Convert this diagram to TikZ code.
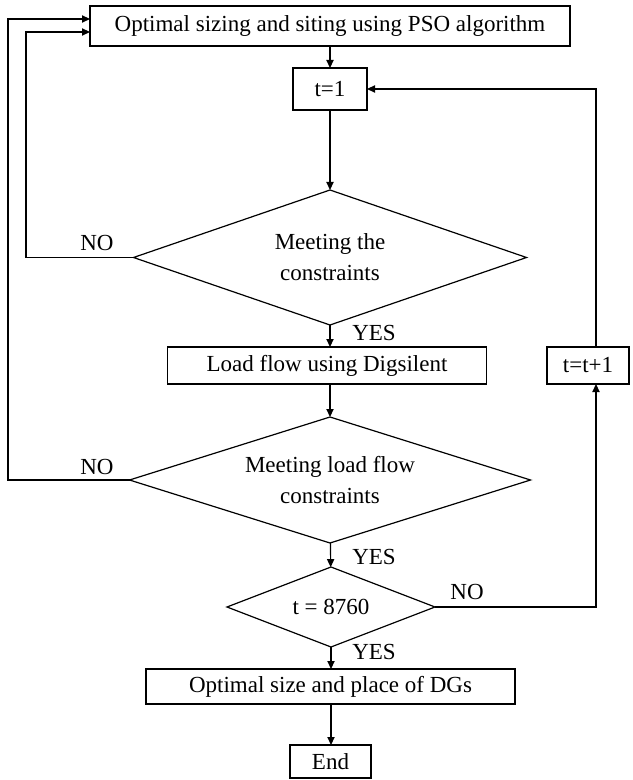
\documentclass[tikz,border=0pt]{standalone}
\usepackage{fontspec}
\setmainfont{Liberation Serif}
\usetikzlibrary{arrows.meta,shapes.geometric}

\begin{document}
\begin{tikzpicture}[x=0.5pt,y=-0.5pt,
	font=\fontsize{11.5}{15.5}\selectfont,
	line width=0.6pt,
	>={Triangle[length=4pt,width=3.6pt]},
	block/.style={draw,rectangle,inner sep=0pt,outer sep=0pt},
	test/.style={draw,diamond,aspect=3,inner sep=0pt,outer sep=0pt,align=center},
	tag/.style={inner sep=0pt}]
			% frame of the page
			\useasboundingbox (0,0) rectangle (632,780);
			% process boxes
			\node[block,minimum width=240pt,minimum height=20pt] (pso) at (330,26) {Optimal sizing and siting using PSO algorithm};
			\node[block,minimum width=37pt,minimum height=21pt] (tone) at (330,89) {t=1};
			\node[block,minimum width=159.5pt,minimum height=18.5pt] (lf) at (327,365.5) {Load flow using Digsilent};
			\node[block,minimum width=41pt,minimum height=18.5pt] (tinc) at (588,365.5) {t=t+1};
			\node[block,minimum width=184.5pt,minimum height=17.5pt] (dgs) at (330.5,686.5) {Optimal size and place of DGs};
			\node[block,minimum width=40.5pt,minimum height=16.5pt] (fin) at (330.5,761.5) {End};
			% decisions
			\node[test,minimum width=196.5pt,minimum height=67.5pt] (cons) at (330,257.5) {Meeting the\\constraints};
			\node[test,minimum width=200.5pt,minimum height=63pt] (flow) at (330,480) {Meeting load flow\\constraints};
			\node[test,minimum width=104pt,minimum height=40pt] (hour) at (331,607) {t = 8760};
			% turning points of the loops
			\coordinate (inner) at (26,32);
			\coordinate (outer) at (8,19);
			\coordinate (back) at (596,607);
			% main flow
			\draw[->] (pso) -- (tone);
			\draw[->] (tone) -- (cons);
			\draw[->] (cons.south) -- (cons.south |- lf.north);
			\draw[->] (lf.south) -- (lf.south -| flow.north) -- (flow.north);
			\draw[->] (flow) -- (hour);
			\draw[->] (hour.south) -- (hour.south |- dgs.north);
			\draw[->] (dgs.south -| hour.south) -- (fin.north -| hour.south);
			% loops back
			\draw[->] (cons.west) -| (inner) -- (inner -| pso.west);
			\draw[->] (flow.west) -| (outer) -- (outer -| pso.west);
			\draw[->] (hour.east) -- (back) -- (back |- tinc.south);
			\draw[->] (back |- tinc.north) |- (tone.east);
			% yes and no
			\node[tag] (yesa) at (374,333) {YES};
			\node[tag] (yesb) at (374,557) {YES};
			\node[tag] (yesc) at (374,652) {YES};
			\node[tag] (noa) at (97,243) {NO};
			\node[tag] (nob) at (97,467) {NO};
			\node[tag] (noc) at (467,592) {NO};
		\end{tikzpicture}
\end{document}
